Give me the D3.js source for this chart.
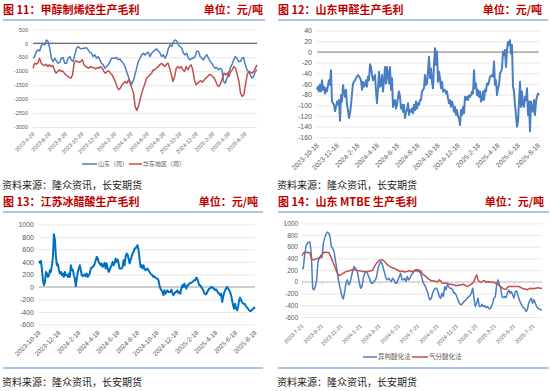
<!DOCTYPE html>
<html><head><meta charset="utf-8">
<script src="https://cdn.jsdelivr.net/npm/d3@7"></script>
<style>body{margin:0;background:#fff}svg{display:block}</style>
</head><body><svg id="c" width="550" height="391"></svg>
<script>
// ---------- DATA ----------
const p11Ticks = ["2023-4-28","2023-6-28","2023-8-28","2023-10-28","2023-12-28","2024-2-28","2024-4-28","2024-6-28","2024-8-28","2024-10-28","2024-12-28","2025-2-28","2025-4-28","2025-6-28"];
const p11Range = ["2023-4-28","2025-8-12"];
const p11YTicks = [500,0,-500,-1000,-1500,-2000,-2500,-3000];
const p11Shandong = [-536,-476,-298,-238,-274,-83,0,-60,119,60,-179,-536,-655,-536,-631,-714,-679,-536,-512,-714,-714,-536,-476,-595,-655,-417,-179,-119,-179,-202,-179,-179,-155,-238,-321,-357,-476,-417,-536,-476,-595,-714,-774,-893,-833,-774,-655,-536,-536,-536,-512,-595,-560,-655,-714,-833,-1012,-1190,-1369,-1464,-1345,-1131,-893,-655,-536,-417,-357,-417,-357,-321,-476,-357,-298,-238,-202,-274,-357,-476,-417,-536,-417,-179,-60,-119,36,119,83,-60,-119,-179,-357,-417,-357,-536,-595,-536,-536,-476,-274,-298,-476,-536,-595,-476,-417,-536,-655,-714,-833,-893,-869,-952,-893,-952,-1369,-1429,-1250,-1071,-893,-774,-595,-476,-536,-655,-655,-536,-512,-774,-952,-1012,-1131,-1250,-1190,-1012,-952];
const p11Huadong = [-893,-714,-750,-714,-536,-714,-774,-798,-750,-833,-774,-833,-798,-952,-1071,-1012,-952,-1012,-988,-1071,-1131,-1190,-1226,-1250,-1131,-714,-631,-655,-679,-655,-595,-774,-833,-869,-893,-833,-869,-869,-917,-869,-893,-833,-893,-1012,-1071,-1012,-988,-1071,-1131,-1250,-1369,-1548,-1667,-1607,-1488,-1429,-1369,-1429,-1310,-1429,-1607,-1786,-2262,-2405,-2262,-2024,-1786,-1607,-1429,-1250,-1190,-1131,-1071,-952,-952,-893,-833,-774,-714,-774,-833,-750,-714,-893,-1131,-1369,-1190,-893,-833,-893,-833,-952,-1012,-833,-952,-833,-774,-952,-1310,-1488,-1429,-1369,-1345,-1393,-1310,-1250,-1190,-1131,-1131,-1190,-1250,-1369,-1512,-1548,-1429,-1250,-1071,-1131,-1071,-1190,-1012,-952,-833,-893,-1131,-1369,-1786,-1905,-1845,-1488,-1131,-1012,-1036,-1071,-1012,-893,-774];

const p12Ticks = ["2023-10-18","2023-12-18","2024-2-18","2024-4-18","2024-6-18","2024-8-18","2024-10-18","2024-12-18","2025-2-18","2025-4-18","2025-6-18","2025-8-18"];
const p12Range = ["2023-10-18","2025-8-20"];
const p12YTicks = [40,20,0,-20,-40,-60,-80,-100,-120,-140,-160];
const p12Values = [-71,-65,-74,-61,-74,-53,-71,-65,-78,-68,-74,-62,-53,-62,-34,-93,-96,-99,-111,-103,-93,-99,-90,-129,-81,-93,-62,-74,-84,-71,-99,-109,-124,-115,-99,-78,-59,-56,-53,-49,-46,-43,-46,-49,-53,-71,-56,-65,-62,-53,-65,-46,-53,-23,-28,-43,-53,-49,-43,-74,-96,-68,-37,-65,-62,-43,-74,-53,-28,-59,-28,-43,-59,-28,-71,-49,-103,-99,-90,-106,-99,-84,-74,-84,-106,-99,-112,-99,-124,-112,-109,-96,-118,-109,-112,-106,-115,-99,-109,-93,-106,-96,-99,-90,-90,-74,-71,-68,-43,-62,-59,-37,-9,-49,-31,-56,-68,-24,7,-24,1,-56,-37,-49,-68,-56,-74,-71,-71,-78,-74,-87,-96,-90,-103,-93,-99,-112,-103,-118,-109,-121,-124,-137,-109,-118,-103,-115,-84,-90,-84,-90,-81,-84,-81,-74,-78,-34,-68,-59,-81,-71,-84,-74,-93,-90,-74,-90,-71,-74,-59,-62,-56,-46,-46,-43,-46,-18,-62,-53,-81,-68,-62,-40,-37,-31,1,-6,4,-28,4,19,13,22,-3,13,-65,-74,-99,-118,-140,-131,-93,-56,-103,-74,-99,-103,-84,-90,-68,-118,-93,-149,-93,-106,-112,-90,-118,-93,-84,-78,-81];

const p13Ticks = ["2023-10-18","2023-12-18","2024-2-18","2024-4-18","2024-6-18","2024-8-18","2024-10-18","2024-12-18","2025-2-18","2025-4-18","2025-6-18","2025-8-18"];
const p13Range = ["2023-10-18","2025-8-18"];
const p13YTicks = [1000,800,600,400,200,0,-200,-400,-600];
const p13Values = [416,384,416,267,107,27,80,240,213,160,187,267,240,347,480,843,747,480,347,363,267,213,240,187,213,160,240,187,187,160,213,160,347,267,277,187,133,11,133,240,293,347,267,187,171,187,203,171,213,160,187,213,293,309,320,331,373,427,480,453,400,373,347,373,320,347,384,293,373,293,240,267,320,347,400,347,384,453,400,437,373,293,293,293,320,427,347,480,533,517,453,373,427,480,533,560,613,613,640,667,587,453,320,347,293,347,293,267,277,293,267,240,213,197,187,160,171,149,133,133,107,27,-27,-53,-80,-133,-53,-107,-80,-53,-80,-80,-80,-43,-96,-133,-107,-80,-80,-53,-96,-80,-107,-27,27,0,53,0,-27,27,27,53,64,64,80,91,107,107,149,133,80,27,27,0,-27,-53,-96,-117,-117,-80,-53,-27,-27,0,0,-27,-27,-53,-43,-64,-96,-107,-133,-107,-240,-160,-96,-53,-27,0,-27,-53,-80,-133,-213,-293,-347,-267,-347,-373,-320,-213,-171,-213,-240,-267,-267,-277,-309,-331,-347,-373,-384,-384,-363,-352,-331,-347];

const p14Ticks = ["2023-7-21","2023-9-21","2023-11-21","2024-1-21","2024-3-21","2024-5-21","2024-7-21","2024-9-21","2024-11-21","2025-1-21","2025-3-21","2025-5-21","2025-7-21"];
const p14Range = ["2023-7-21","2025-8-18"];
const p14YTicks = [1000,800,600,400,200,0,-200,-400,-600];
const p14Isomer = [222,234,462,604,661,678,678,462,-108,-137,-80,34,348,405,450,416,661,747,815,849,832,775,604,576,519,376,234,91,-51,-137,-251,-291,-165,-23,34,-51,-23,91,177,262,234,205,120,-23,-108,-80,63,148,177,148,91,34,-23,-23,6,34,91,234,291,348,319,234,148,63,34,63,34,6,63,34,-23,-23,34,91,148,34,34,63,6,91,34,63,120,148,177,188,188,177,177,148,63,-23,-51,-108,-165,-251,-308,-279,-194,-137,-108,-108,-165,-251,-279,-194,-251,-80,-137,-51,-80,-108,-108,-137,-194,-194,-251,-308,-365,-393,-382,-348,-325,-308,-279,-251,-234,-194,-108,-279,-422,-365,-279,-422,-422,-382,-422,-405,-439,-422,-450,-462,-422,-365,-279,-251,-51,34,-51,-108,-251,-268,-251,-268,-194,-137,-194,-165,-222,-279,-165,-154,-234,-308,-365,-405,-439,-450,-507,-479,-365,-308,-279,-365,-308,-365,-422,-450,-462,-475,-480];
const p14Gas = [450,490,502,502,507,502,490,405,376,376,388,393,405,405,416,462,490,507,507,502,502,462,405,348,291,234,177,131,108,120,131,148,160,177,177,188,188,205,205,205,205,194,188,188,188,177,177,177,165,177,177,188,188,205,245,291,319,348,365,376,376,365,348,319,291,279,262,245,234,234,222,205,205,177,177,188,177,165,177,177,188,188,177,177,188,205,205,205,200,188,148,120,108,91,63,46,34,17,17,17,6,6,6,34,17,-23,-23,-23,-23,-23,-40,-40,-40,-51,-51,-63,-68,-63,-51,-51,-51,-40,-51,-68,-80,-68,-51,-40,-23,6,74,120,34,6,-11,6,17,17,-11,6,-6,6,-11,-6,-6,-23,-23,-40,-68,-80,-97,-120,-125,-125,-97,-80,-80,-80,-80,-80,-80,-80,-80,-80,-97,-108,-120,-120,-120,-137,-125,-108,-120,-108,-120,-108,-108,-97,-108,-108,-108];

// ---------- DRAW ----------
const svg = d3.select("#c");
const parse = d3.timeParse("%Y-%m-%d");
const CJK = "'Noto Sans CJK SC','Noto Sans',sans-serif";
const NUM = "'Liberation Sans',Arial,sans-serif";

function drawPanel(c) {
  const g = svg.append("g");
  g.append("text").attr("x", c.left).attr("y", c.titleY)
    .attr("font-family", CJK).attr("font-weight", "bold").attr("font-size", 11)
    .attr("fill", "#C00000").attr("xml:space", "preserve").text(c.title);
  g.append("text").attr("x", c.unitX).attr("y", c.titleY).attr("text-anchor", "end")
    .attr("font-family", CJK).attr("font-weight", "bold").attr("font-size", 11)
    .attr("fill", "#C00000").text("单位：元/吨");
  g.append("line").attr("x1", c.left).attr("x2", c.lineRight).attr("y1", c.titleY + 6).attr("y2", c.titleY + 6)
    .attr("stroke", "#A9C6E8").attr("stroke-width", 2);
  if (c.bottomLine) {
    g.append("line").attr("x1", c.left).attr("x2", c.lineRight).attr("y1", c.bottomLine).attr("y2", c.bottomLine)
      .attr("stroke", "#A9C6E8").attr("stroke-width", 2);
  }
  g.append("text").attr("x", c.left - 1).attr("y", c.sourceY)
    .attr("font-family", CJK).attr("font-size", 10).attr("fill", "#1a1a1a")
    .text("资料来源：隆众资讯，长安期货");

  const x = d3.scaleTime().domain(c.range.map(parse)).range([c.x0, c.x1]);
  const y = d3.scaleLinear().domain(d3.extent(c.yTicks)).range([c.yb, c.yt]);

  // y axis with grid
  const ya = g.append("g").attr("transform", `translate(${c.x0},0)`)
    .call(d3.axisLeft(y).tickValues(c.yTicks).tickFormat(d => String(d))
      .tickSize(-(c.x1 - c.x0)).tickPadding(c.x0 - c.labelRight));
  ya.select(".domain").remove();
  ya.selectAll("line").attr("stroke", "#E3E3E3").attr("stroke-width", 0.8);
  ya.selectAll("text").attr("font-family", NUM).attr("font-size", c.yFont).attr("fill", "#595959");

  // zero line
  g.append("line").attr("x1", c.x0).attr("x2", c.x1).attr("y1", y(0)).attr("y2", y(0))
    .attr("stroke", c.zeroColor).attr("stroke-width", c.zeroWidth);
  if (c.zeroTicks) {
    const zt = g.append("g").attr("transform", `translate(0,${y(0)})`)
      .call(d3.axisBottom(x).tickValues(c.ticks.map(parse)).tickSize(3).tickFormat(""));
    zt.select(".domain").remove();
    zt.selectAll("line").attr("stroke", c.zeroColor).attr("stroke-width", 0.8);
  }

  // x axis labels
  const xa = g.append("g").attr("transform", `translate(0,${c.yb + c.xOff})`)
    .call(d3.axisBottom(x).tickValues(c.ticks.map(parse)).tickFormat((d, i) => c.ticks[i]).tickSize(0).tickPadding(0));
  xa.select(".domain").remove();
  xa.selectAll("text").attr("font-family", NUM).attr("font-size", c.xFont).attr("fill", "#595959")
    .attr("text-anchor", "end").attr("dy", "0.35em").attr("transform", "rotate(-45)");

  // series
  c.series.forEach(s => {
    const idx = d3.scaleLinear().domain([0, s.values.length - 1]).range(c.range.map(parse).map(Number));
    const line = d3.line().x((d, i) => x(new Date(idx(i)))).y(d => y(d));
    g.append("path").datum(s.values).attr("d", line).attr("fill", "none")
      .attr("stroke", s.color).attr("stroke-width", s.width).attr("stroke-linejoin", "round");
  });

  // legend
  if (c.legend) {
    c.legend.forEach(l => {
      g.append("line").attr("x1", l.x).attr("x2", l.x + l.len).attr("y1", c.legendY).attr("y2", c.legendY)
        .attr("stroke", l.color).attr("stroke-width", 1.5);
      g.append("text").attr("x", l.x + l.len + 1).attr("y", c.legendY).attr("dy", "0.35em")
        .attr("font-family", CJK).attr("font-size", c.legendFont).attr("fill", "#595959").text(l.label);
    });
  }
}

drawPanel({
  title: "图 11：甲醇制烯烃生产毛利", left: 3, titleY: 14, unitX: 263, lineRight: 265, sourceY: 189,
  range: p11Range, ticks: p11Ticks, yTicks: p11YTicks,
  x0: 33, x1: 257, yt: 29.3, yb: 127, labelRight: 28, yFont: 5.5, xFont: 5.5, xOff: 6,
  zeroColor: "#404040", zeroWidth: 1,
  series: [{values: p11Shandong, color: "#4A7EC2", width: 1.5}, {values: p11Huadong, color: "#C0504D", width: 1.5}],
  legendY: 164, legendFont: 6,
  legend: [{x: 82, len: 15, color: "#4A7EC2", label: "山东（周）"}, {x: 129, len: 13, color: "#C0504D", label: "华东地区（周）"}]
});
drawPanel({
  title: "图 12：山东甲醛生产毛利", left: 278, titleY: 14, unitX: 542, lineRight: 548, sourceY: 189,
  range: p12Range, ticks: p12Ticks, yTicks: p12YTicks,
  x0: 317, x1: 539, yt: 30.7, yb: 137.3, labelRight: 312, yFont: 7, xFont: 6.8, xOff: 7,
  zeroColor: "#808080", zeroWidth: 1,
  series: [{values: p12Values, color: "#4A7EC2", width: 2}]
});
drawPanel({
  title: "图 13：江苏冰醋酸生产毛利", left: 3, titleY: 206, unitX: 258, lineRight: 263, sourceY: 386, bottomLine: 368,
  range: p13Range, ticks: p13Ticks, yTicks: p13YTicks,
  x0: 39, x1: 255, yt: 224.3, yb: 324.5, labelRight: 34, yFont: 7, xFont: 6.5, xOff: 7,
  zeroColor: "#A6A6A6", zeroWidth: 1,
  series: [{values: p13Values, color: "#0070C0", width: 2}]
});
drawPanel({
  title: "图 14：山东 MTBE 生产毛利", left: 278, titleY: 206, unitX: 544, lineRight: 549, sourceY: 386, bottomLine: 368,
  range: p14Range, ticks: p14Ticks, yTicks: p14YTicks,
  x0: 302, x1: 542, yt: 223.3, yb: 317, labelRight: 298, yFont: 6.5, xFont: 5.5, xOff: 8,
  zeroColor: "#C8C8C8", zeroWidth: 1, zeroTicks: true,
  series: [{values: p14Isomer, color: "#4A7EC2", width: 1.5}, {values: p14Gas, color: "#C0504D", width: 1.5}],
  legendY: 357, legendFont: 6.5,
  legend: [{x: 363, len: 14, color: "#4A7EC2", label: "异构醚化法"}, {x: 412, len: 16, color: "#C0504D", label: "气分醚化法"}]
});
</script></body></html>
